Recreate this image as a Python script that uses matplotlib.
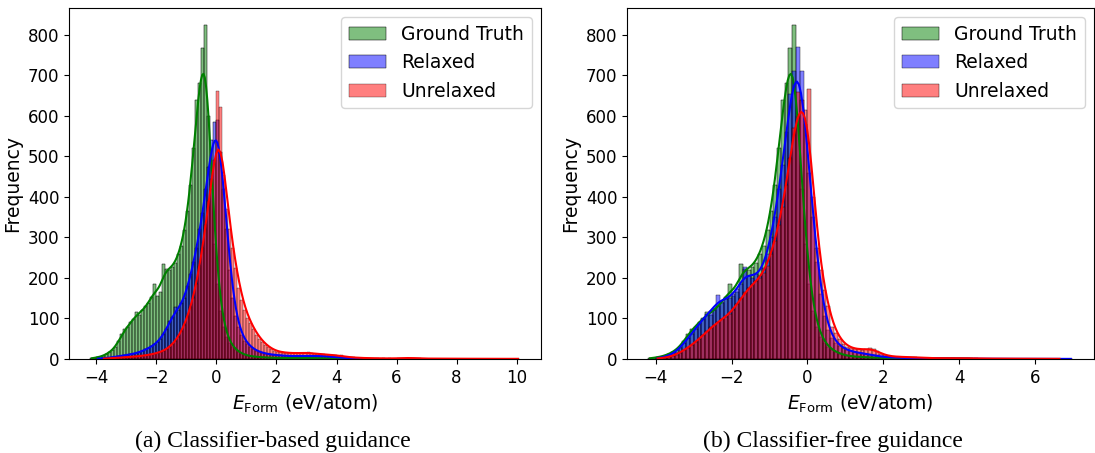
import numpy as np
import matplotlib
matplotlib.use("Agg")
import matplotlib.pyplot as plt
import seaborn as sns

# ---------------- data (counts per 0.1 eV/atom bin) ----------------
BIN_WIDTH = 0.1

# Ground truth (same in both panels), first bin left edge -4.2
gt_start = -4.2
gt_counts = [2, 3, 4, 6, 8, 12, 17, 22, 30, 44,
             62, 74, 80, 92, 98, 117, 108, 122, 130, 138,
             152, 186, 155, 165, 234, 223, 219, 228, 238, 260,
             280, 318, 365, 430, 520, 640, 680, 768, 825, 600,
             420, 285, 185, 118, 80, 55, 40, 30, 22, 17,
             13, 10, 8, 7, 6, 5, 5, 4, 4, 3,
             3, 3, 3, 2, 2, 3, 2, 2, 3, 3,
             2, 3, 2, 2, 2, 3, 2, 2, 2, 1,
             2, 1, 1, 1, 1, 1]

# (a) Classifier-based guidance
relaxed_a_start = -4.0
relaxed_a_counts = [1, 1, 2, 3, 3, 4, 6, 7, 8, 9,
                    10, 12, 13, 15, 17, 20, 24, 27, 31, 36,
                    42, 50, 62, 75, 95, 104, 128, 120, 138, 150,
                    180, 210, 240, 275, 320, 360, 420, 475, 540, 585,
                    590, 510, 420, 320, 220, 150, 105, 78, 58, 45,
                    36, 29, 24, 20, 17, 15, 13, 12, 11, 10,
                    9, 9, 8, 8, 7, 7, 7, 8, 7, 8,
                    7, 8, 7, 7, 8, 7, 7, 6, 5, 5,
                    4, 3, 3, 2, 2, 1, 1, 1, 1]

unrelaxed_a_start = -3.8
unrelaxed_a_counts = [1, 1, 2, 2, 3, 3, 4, 4, 5, 5,
                      6, 7, 7, 8, 9, 10, 12, 13, 15, 17,
                      20, 24, 29, 36, 44, 55, 68, 84, 105, 128,
                      150, 185, 230, 275, 330, 390, 445, 490, 661, 623,
                      455, 370, 320, 275, 225, 175, 145, 120, 102, 88,
                      74, 60, 50, 42, 35, 29, 24, 20, 18, 17,
                      16, 15, 15, 14, 15, 14, 15, 14, 18, 14,
                      13, 13, 12, 12, 11, 11, 10, 9, 8, 9,
                      6, 5, 4, 4, 3, 3, 3, 2, 2, 2,
                      2, 2, 1, 2, 1, 2, 1, 1, 2, 2,
                      2, 3, 3, 2, 2, 2, 1, 1, 1, 1,
                      1, 1, 1, 1, 1, 0, 1, 1, 1, 1,
                      0, 1, 1, 0, 1, 0, 1, 1, 1, 0,
                      1, 0, 1, 0, 0, 1, 0, 1, 1]

# (b) Classifier-free guidance
relaxed_b_start = -4.0
relaxed_b_counts = [2, 3, 5, 8, 12, 18, 28, 40, 52, 62,
                    75, 88, 100, 110, 118, 125, 158, 140, 148, 150,
                    160, 172, 185, 226, 205, 200, 210, 205, 225, 260,
                    300, 350, 420, 480, 560, 655, 710, 770, 710, 580,
                    460, 350, 240, 160, 105, 72, 52, 40, 32, 26,
                    22, 19, 17, 15, 14, 13, 11, 9, 7, 6,
                    5, 4, 4, 3, 3, 3, 2, 2, 2, 2,
                    2, 1, 2, 1, 1, 1, 1, 1, 1, 1,
                    1, 1, 1, 0, 1, 1, 0, 1, 0, 1,
                    0, 1, 0, 1, 0, 0, 1, 0, 1, 0,
                    1, 0, 0, 1, 0, 0, 1, 0, 0, 1]

unrelaxed_b_start = -4.0
unrelaxed_b_counts = [1, 2, 3, 5, 7, 11, 16, 22, 28, 35,
                      42, 50, 58, 68, 78, 85, 92, 98, 104, 112,
                      122, 135, 150, 165, 175, 185, 192, 200, 212, 230,
                      260, 290, 330, 375, 430, 495, 570, 660, 640, 615,
                      667, 400, 275, 220, 170, 130, 80, 65, 50, 38,
                      30, 27, 25, 24, 23, 24, 26, 24, 20, 12,
                      9, 7, 6, 6, 5, 5, 5, 4, 4, 3,
                      3, 3, 2, 2, 2, 2, 2, 2, 2, 2,
                      2, 2, 2, 1, 2, 1, 1, 1, 1, 1,
                      1, 1, 1, 1, 0, 1, 1, 0, 1, 1,
                      0, 1, 0, 1, 1, 0, 1]

series_labels = ["Ground Truth", "Relaxed", "Unrelaxed"]
series_colors = ["green", "blue", "red"]
captions = ["(a) Classifier-based guidance", "(b) Classifier-free guidance"]
x_ticks_a = [-4, -2, 0, 2, 4, 6, 8, 10]
x_ticks_b = [-4, -2, 0, 2, 4, 6]
y_ticks = [0, 100, 200, 300, 400, 500, 600, 700, 800]


def draw_series(ax, start, counts, color, label):
    counts = np.asarray(counts, dtype=int)
    edges = start + BIN_WIDTH * np.arange(len(counts) + 1)
    centers = (edges[:-1] + edges[1:]) / 2
    values = np.repeat(centers, counts)
    sns.histplot(x=values, bins=edges, kde=True, color=color,
                 label=label, ax=ax)


fig = plt.figure(figsize=(10.95, 4.53), dpi=100)
ax_a = fig.add_axes([69 / 1095, 94 / 453, 472 / 1095, 351 / 453])
ax_b = fig.add_axes([627 / 1095, 94 / 453, 467 / 1095, 351 / 453])

panels = [
    (ax_a, [(gt_start, gt_counts), (relaxed_a_start, relaxed_a_counts),
            (unrelaxed_a_start, unrelaxed_a_counts)], x_ticks_a),
    (ax_b, [(gt_start, gt_counts), (relaxed_b_start, relaxed_b_counts),
            (unrelaxed_b_start, unrelaxed_b_counts)], x_ticks_b),
]

for ax, series, xt in panels:
    for (start, counts), color, label in zip(series, series_colors, series_labels):
        draw_series(ax, start, counts, color, label)
    ax.set_xticks(xt)
    ax.set_yticks(y_ticks)
    ax.tick_params(labelsize=12)
    ax.set_xlabel(r"$E_{\mathrm{Form}}$ (eV/atom)", fontsize=13.5)
    ax.set_ylabel("Frequency", fontsize=13.5)
    ax.legend(loc="upper right", fontsize=13.5)

fig.text(273 / 1095, 6 / 453, captions[0], ha="center", va="baseline",
         family="Liberation Serif", fontsize=17)
fig.text(833 / 1095, 6 / 453, captions[1], ha="center", va="baseline",
         family="Liberation Serif", fontsize=17)

fig.savefig("out.png", dpi=100)
